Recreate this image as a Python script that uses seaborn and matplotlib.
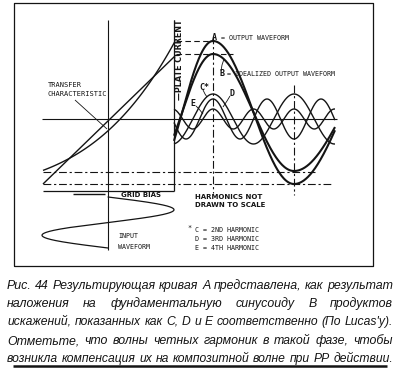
import numpy as np
import pandas as pd
import matplotlib
matplotlib.use('Agg')
import matplotlib.pyplot as plt
import seaborn as sns

# ### traced values, picture pixels (x to the right, y downwards)
# transfer characteristic: curved tube line and the straight ideal line
tc_curve_x = [43, 62, 108, 152, 175]
tc_curve_y = [170, 163, 130, 80, 41]
tc_line_x = [43, 175]
tc_line_y = [184, 56]

# output waveforms A and B (phase knots in units of pi)
wave_knots_x = [174, 213, 294, 335]
wave_knots_phase = [-0.63, 0.0, 1.0, 1.42]
out_names = ['A', 'B']
out_center = [112.5, 112.5]
out_amp = [71.5, 58.5]
out_lw = [1.5, 1.5]

# harmonics C, D, E
harm_names = ['C', 'D', 'E']
harm_order = [2, 3, 4]
harm_amp = [25, 20, 10]
harm_center = 119
fund_period = 162
fund_peak_x = 213

# input waveform hanging under the grid axis
inp_axis_x = 108
inp_amp = 66
inp_top = 197
inp_bottom = 248

caption = [
    'Рис. 44 Результирующая кривая А представлена, как результат',
    'наложения на фундаментальную синусоиду В продуктов',
    'искажений, показанных как С, D и Е соответственно (По Lucas\'у).',
    'Отметьте, что волны четных гармоник в такой фазе,  чтобы',
    'возникла компенсация их на композитной волне при РР действии.',
]

sns.set_theme(style='white')
plt.rcParams['font.family'] = ['DejaVu Sans']

ink = '#141414'
fig = plt.figure(figsize=(4.0, 3.7), dpi=100)
ax = fig.add_axes([0, 0, 1, 1])
ax.set_xlim(0, 400)
ax.set_ylim(370, 0)
ax.set_axis_off()


def line(xs, ys, lw=0.8, ls='-'):
    df = pd.DataFrame({'x': xs, 'y': ys})
    sns.lineplot(data=df, x='x', y='y', sort=False, estimator=None,
                 color=ink, linewidth=lw, linestyle=ls, ax=ax,
                 solid_capstyle='butt')


dashdot = (0, (7, 2.5, 2, 2.5))
dashed = (0, (5, 3))

# frame
line([14, 14, 373, 373, 14], [266, 3, 3, 266, 266], lw=0.9)

# axes of the drawing
line([42, 337], [119, 119], lw=0.8)            # operating point line
line([108, 108], [20, 250], lw=0.8)           # grid axis
line([174, 174], [20, 191], lw=0.9)           # plate current axis
line([43, 174], [191, 191], lw=0.9)           # grid bias
line([73, 105], [193.5, 193.5], lw=1.0)

# dashed guides
line([176, 213], [41, 41], lw=0.8, ls=dashed)
line([176, 233], [54, 54], lw=0.8, ls=dashed)
line([43, 315], [172, 172], lw=0.8, ls=dashdot)
line([43, 333], [184, 184], lw=0.8, ls=dashdot)
line([213, 213], [36, 193], lw=0.8, ls=dashdot)
line([294, 294], [85, 195], lw=0.8, ls=dashdot)

# transfer characteristic
cx = np.linspace(tc_curve_x[0], tc_curve_x[-1], 120)
cy = np.polyval(np.polyfit(tc_curve_x, tc_curve_y, 3), cx)
line(cx, cy, lw=1.0)
line(tc_line_x, tc_line_y, lw=1.0)

# output waves A, B
wx = np.linspace(wave_knots_x[0], wave_knots_x[-1], 300)
phase = np.pi * np.interp(wx, wave_knots_x, wave_knots_phase)
for c, a, lw in zip(out_center, out_amp, out_lw):
    line(wx, c - a * np.cos(phase), lw=lw)

# harmonics
hx = np.linspace(174, 335, 400)
for n, a in zip(harm_order, harm_amp):
    line(hx, harm_center - a * np.cos(2 * np.pi * n * (hx - fund_peak_x) / fund_period), lw=1.0)

# input waveform (parametric in y, so drawn straight with matplotlib)
iy = np.linspace(inp_top, inp_bottom, 200)
ix = inp_axis_x + inp_amp * np.sin(2 * np.pi * (iy - inp_top) / (inp_bottom - inp_top))
ax.plot(ix, iy, color=ink, lw=0.9)

# leaders
line([75, 107], [100, 129], lw=0.6)
line([221, 222, 224], [71, 65, 59], lw=0.6)
line([203, 205, 207], [90, 94, 97], lw=0.6)
line([230, 227, 223], [96, 101, 107], lw=0.6)
line([196, 199, 203], [106, 109, 114], lw=0.6)

# drawing labels
mono = dict(family='DejaVu Sans Mono', color=ink, va='center', ha='left')
ax.text(48, 85, 'TRANSFER', fontsize=5, **mono)
ax.text(48, 94, 'CHARACTERISTIC', fontsize=5, **mono)
ax.text(212, 37, 'A', fontsize=6, fontweight='bold', **mono)
ax.text(221, 38, '= OUTPUT WAVEFORM', fontsize=4.8, **mono)
ax.text(219, 73, 'B', fontsize=6, fontweight='bold', **mono)
ax.text(227, 74, '= IDEALIZED OUTPUT WAVEFORM', fontsize=4.8, **mono)
ax.text(199, 87, 'C*', fontsize=6, fontweight='bold', **mono)
ax.text(230, 93, 'D', fontsize=6, fontweight='bold', **mono)
ax.text(190, 103, 'E', fontsize=6, fontweight='bold', **mono)
ax.text(118, 236, 'INPUT', fontsize=4.8, **mono)
ax.text(118, 247, 'WAVEFORM', fontsize=4.8, **mono)
ax.text(187, 228, '*', fontsize=5, **mono)
ax.text(195, 230, 'C = 2ND HARMONIC', fontsize=4.8, **mono)
ax.text(195, 239, 'D = 3RD HARMONIC', fontsize=4.8, **mono)
ax.text(195, 248, 'E = 4TH HARMONIC', fontsize=4.8, **mono)

bold = dict(family='DejaVu Sans', fontweight='bold', color=ink, va='center', ha='left')
ax.text(121, 195, 'GRID BIAS', fontsize=5, **bold)
ax.text(195, 197, 'HARMONICS NOT', fontsize=5.0, **bold)
ax.text(195, 205, 'DRAWN TO SCALE', fontsize=5.0, **bold)
ax.text(180, 60, '—PLATE CURRENT', fontsize=5.8, rotation=90, family='DejaVu Sans',
        fontweight='bold', color=ink, va='center', ha='center')

# caption, justified like the book page
renderer = fig.canvas.get_renderer()
cap_y = [286, 304, 322, 341, 359]
for txt, y in zip(caption, cap_y):
    words = txt.split()
    size = 8.9
    while True:
        items = [ax.text(0, y, w, family='Liberation Sans', style='italic', fontsize=size,
                         color=ink, va='center', ha='left') for w in words]
        widths = [t.get_window_extent(renderer).width for t in items]
        gap = (393 - 7 - sum(widths)) / (len(words) - 1)
        if gap >= 3.2 or size < 7.5:
            break
        for t in items:
            t.remove()
        size -= 0.1
    x = 7
    for t, w in zip(items, widths):
        t.set_x(x)
        x += w + gap
line([13, 387], [366, 366], lw=1.8)

fig.savefig('out.png', dpi=100)
